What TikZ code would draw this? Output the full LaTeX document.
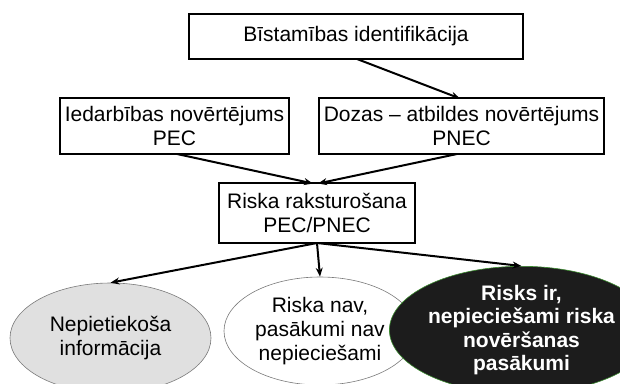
\documentclass[tikz,border=0pt]{standalone}
\usepackage{fontspec}
\setmainfont{Liberation Sans}
\usetikzlibrary{shapes.geometric,arrows.meta}
\definecolor{ovalgray}{HTML}{E0E0E0}
\definecolor{ovalline}{HTML}{7A7A7A}
\definecolor{darkoval}{HTML}{1C1C1C}
\definecolor{greenrim}{HTML}{3A8A2E}
\begin{document}
\begin{tikzpicture}[x=1pt,y=-1pt,
  every node/.style={font=\fontsize{21}{24}\selectfont, align=center, inner sep=0pt},
  stepbox/.style={draw=black, line width=1.2pt, rectangle},
  oval/.style={ellipse, draw=ovalline, line width=0.6pt},
  flow/.style={-{Stealth[length=9pt,width=7pt]}, line width=2pt, black}]
  \useasboundingbox (0,0) rectangle (620,383);

  % boxes
  \node[stepbox, minimum width=334pt, minimum height=45pt] (hazard) at (356,36.5) {Bīstamības identifikācija};
  \node[stepbox, minimum width=229pt, minimum height=56pt] (exposure) at (174.5,126) {Iedarbības novērtējums\\PEC};
  \node[stepbox, minimum width=285pt, minimum height=56pt] (dose) at (461.5,126) {Dozas – atbildes novērtējums\\PNEC};
  \node[stepbox, minimum width=196pt, minimum height=60pt] (risk) at (317,213) {Riska raksturošana\\PEC/PNEC};

  % outcomes
  \node[oval, fill=ovalgray, minimum width=201pt, minimum height=110pt] (noinfo) at (110.5,338) {Nepietiekoša\\informācija};
  \node[oval, fill=white, minimum width=192pt, minimum height=108pt] (norisk) at (320,331) {Riska nav,\\pasākumi nav\\nepieciešami};
  \node[oval, fill=darkoval, draw=greenrim, minimum width=195pt, minimum height=106pt, text=white, font=\fontsize{21}{23.5}\selectfont\bfseries] (yesrisk) at (521.5,330) {Risks ir,\\nepieciešami riska\\novēršanas\\pasākumi};

  % connectors
  \coordinate (hz) at (357,59);
  \draw[flow] (hz) -- (460,98.5);
  \draw[flow] (177,154) -- (313,183.5);
  \draw[flow] (457,154) -- (318,183.5);
  \coordinate (rb) at (317,243);
  \draw[flow] (rb) -- (noinfo.north);
  \draw[flow] (rb) -- (norisk.north);
  \draw[flow] (rb) -- (yesrisk.north);
\end{tikzpicture}
\end{document}
